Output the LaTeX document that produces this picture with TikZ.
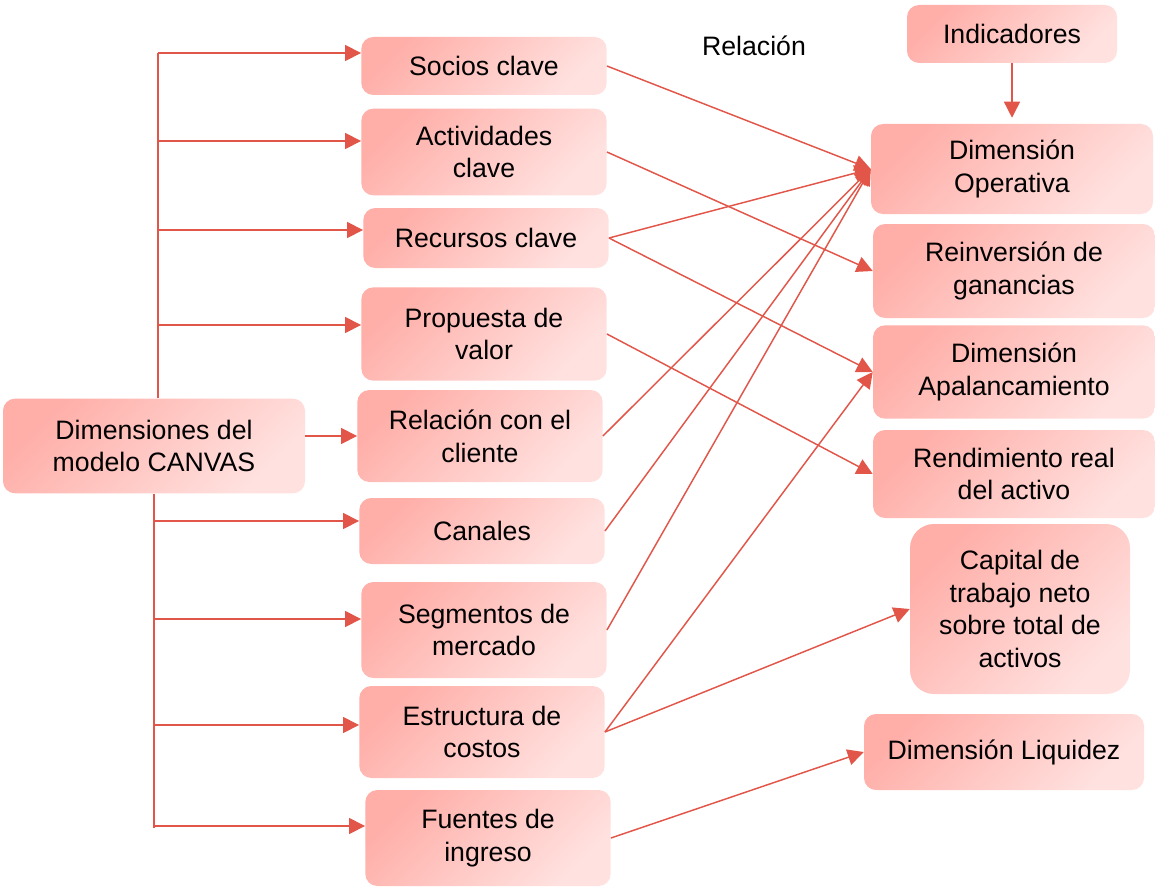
\documentclass[tikz,border=0pt]{standalone}
\usepackage{fontspec}
\setmainfont{Liberation Sans}
\usetikzlibrary{arrows.meta}
\definecolor{linkred}{RGB}{226,86,74}
\definecolor{boxdark}{RGB}{255,174,168}
\definecolor{boxlight}{RGB}{255,226,224}

\begin{document}
\begin{tikzpicture}[x=0.75pt,y=-0.75pt]
         \tikzset{every node/.style={font=\fontsize{20}{24.5}\selectfont,align=center,inner sep=0pt}}
         \tikzset{canvasbox/.style={rounded corners=9pt,top color=boxdark,bottom color=boxlight,shading angle=45}}
         \tikzset{leftbox/.style={canvasbox,minimum width=184pt}}
         \tikzset{rightbox/.style={canvasbox,minimum width=211.5pt}}
         \tikzset{link/.style={draw=linkred,line width=1.1pt,-{Triangle[length=12pt,width=12pt]}}}
         \tikzset{trunk/.style={draw=linkred,line width=1.1pt}}
         \useasboundingbox (0,0) rectangle (1155,888);

         \node[canvasbox,minimum width=226.5pt,minimum height=71pt] (canvas) at (154,446) {Dimensiones del\\modelo CANVAS};
         \node[leftbox,minimum height=43.5pt] (socios) at (484,66) {Socios clave};
         \node[leftbox,minimum height=65pt] (actividades) at (484,152) {Actividades\\clave};
         \node[leftbox,minimum height=45pt] (recursos) at (486,238) {Recursos clave};
         \node[leftbox,minimum height=70pt] (propuesta) at (484,334) {Propuesta de\\valor};
         \node[leftbox,minimum height=69pt] (relacion) at (480,436) {Relación con el\\cliente};
         \node[leftbox,minimum height=49.5pt] (canales) at (482,531) {Canales};
         \node[leftbox,minimum height=72pt] (segmentos) at (484,630) {Segmentos de\\mercado};
         \node[leftbox,minimum height=69pt] (estructura) at (482,732) {Estructura de\\costos};
         \node[leftbox,minimum height=72pt] (fuentes) at (488,838) {Fuentes de\\ingreso};

         \node (relacionlbl) at (754,46) {Relación};
         \node[canvasbox,minimum width=157.5pt,minimum height=43.5pt] (indicadores) at (1012,34) {Indicadores};
         \node[rightbox,minimum height=67.5pt] (operativa) at (1012,169) {Dimensión\\Operativa};
         \node[rightbox,minimum height=70.5pt] (reinversion) at (1014,271) {Reinversión de\\ganancias};
         \node[rightbox,minimum height=70pt] (apalanc) at (1014,372) {Dimensión\\Apalancamiento};
         \node[rightbox,minimum height=66pt] (rendimiento) at (1014,474) {Rendimiento real\\del activo};
         \node[canvasbox,rounded corners=18pt,minimum width=165pt,minimum height=127.5pt] (capital) at (1020,609) {Capital de\\trabajo neto\\sobre total de\\activos};
         \node[canvasbox,minimum width=210pt,minimum height=57pt] (liquidez) at (1004,752) {Dimensión Liquidez};

         % tronco de la izquierda
         \coordinate (trunktop) at (158,53);
         \coordinate (trunkbot) at (154,828);
         \draw[trunk] (trunktop) -- (trunktop |- canvas.north);
         \draw[trunk] (trunkbot |- canvas.south) -- (trunkbot);
         \foreach \n/\y in {socios/53,actividades/141,recursos/230,propuesta/325}{
            \coordinate (b\n) at (158,\y);
            \draw[link] (b\n) -- (b\n -| \n.west);
         }
         \foreach \n/\y in {canales/521,segmentos/619,estructura/725,fuentes/826}{
            \coordinate (b\n) at (154,\y);
            \draw[link] (b\n) -- (b\n -| \n.west);
         }
         \draw[link] (canvas.east |- relacion.west) -- (relacion.west);

         % relaciones con los indicadores
         \foreach \s in {socios,recursos,relacion,canales,segmentos}
            \draw[link] (\s.east) -- (operativa.west);
         \draw[link] (actividades.east) -- (reinversion.west);
         \draw[link] (recursos.east) -- (apalanc.west);
         \draw[link] (estructura.east) -- (apalanc.west);
         \draw[link] (propuesta.east) -- (rendimiento.west);
         \draw[link] (estructura.east) -- (capital.west);
         \draw[link] (fuentes.east) -- (liquidez.west);
         \draw[link,shorten >=4.5pt] (indicadores.south) -- (operativa.north);
\end{tikzpicture}
\end{document}
